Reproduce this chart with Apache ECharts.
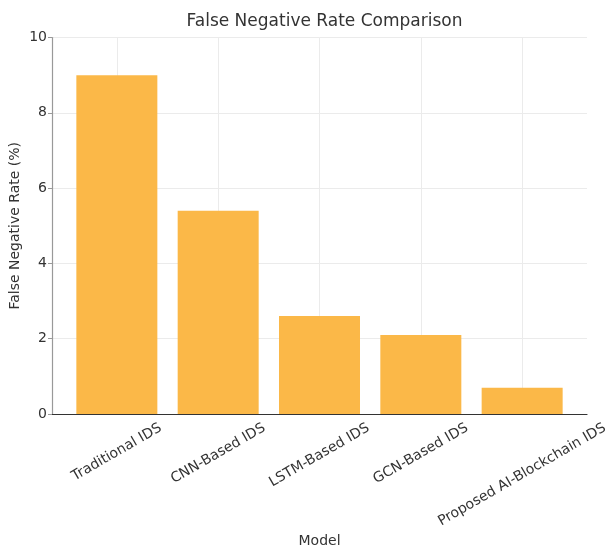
<!DOCTYPE html>
<html><head><meta charset="utf-8">
<script src="https://cdn.jsdelivr.net/npm/echarts@6/dist/echarts.min.js"></script>
<style>html,body{margin:0;padding:0;background:#fff}#c{width:613px;height:553px}</style>
</head><body><div id="c"></div>
<script>
const categories = ['Traditional IDS', 'CNN-Based IDS', 'LSTM-Based IDS', 'GCN-Based IDS', 'Proposed AI-Blockchain IDS'];
const fnRate = [9.0, 5.4, 2.6, 2.1, 0.7];
const yTicks = [0, 2, 4, 6, 8, 10];

const FONT = '"DejaVu Sans", sans-serif';
const LABEL_SIZE = 14;
const ROT = 30;
const rad = ROT * Math.PI / 180;
const ctx = document.createElement('canvas').getContext('2d');
ctx.font = LABEL_SIZE + 'px "DejaVu Sans"';
const rich = {};
categories.forEach((c, i) => {
  const w = ctx.measureText(c).width;
  const h = 16, pad = 6;
  const D = pad + (w / 2) * Math.sin(rad) + (h / 2) * Math.cos(rad);
  rich['l' + i] = {
    fontSize: LABEL_SIZE, fontFamily: FONT, color: '#333',
    padding: [2 * D * Math.cos(rad), 2 * D * Math.sin(rad), 0, 0]
  };
});
const idx = categories.map((_, i) => i);

const chart = echarts.init(document.getElementById('c'), null, {renderer: 'canvas'});
chart.setOption({
  animation: false,
  backgroundColor: '#fff',
  title: {
    text: 'False Negative Rate Comparison',
    left: 319.5, top: 8, textAlign: 'center',
    textStyle: {fontFamily: FONT, fontSize: 17, fontWeight: 'normal', color: '#333'}
  },
  grid: {left: 52, right: 26, top: 37.5, bottom: 139, containLabel: false, outerBoundsMode: 'none'},
  xAxis: {
    type: 'value', min: -0.64, max: 4.64,
    name: 'Model', nameLocation: 'middle', nameGap: 120, nameMoveOverlap: false,
    nameTextStyle: {fontFamily: FONT, fontSize: 14, color: '#333'},
    axisLine: {show: true, onZero: false, lineStyle: {color: '#333', width: 1.2}},
    axisTick: {show: true, inside: true, length: 3, customValues: idx, lineStyle: {color: '#333'}},
    axisLabel: {
      customValues: idx, rotate: ROT, align: 'center', verticalAlign: 'middle', margin: 0,
      formatter: (v) => { const i = Math.round(v); return '{l' + i + '|' + categories[i] + '}'; },
      rich: rich
    },
    splitLine: {show: true, lineStyle: {color: '#ebebeb', width: 1}}
  },
  yAxis: {
    type: 'value', min: 0, max: 10, interval: 2,
    name: 'False Negative Rate (%)', nameLocation: 'middle', nameGap: 30, nameMoveOverlap: false,
    nameTextStyle: {fontFamily: FONT, fontSize: 14, color: '#333'},
    axisLine: {show: true, onZero: false, lineStyle: {color: '#999', width: 1.2}},
    axisTick: {show: true, length: 4, lineStyle: {color: '#999'}},
    axisLabel: {fontFamily: FONT, fontSize: 14, color: '#333', margin: 5,
      formatter: (v) => yTicks.includes(v) ? String(v) : ''},
    splitLine: {show: true, lineStyle: {color: '#ebebeb', width: 1}}
  },
  series: [{
    type: 'bar',
    data: fnRate.map((v, i) => [i, v]),
    barWidth: 81,
    itemStyle: {color: '#fbb848'}
  }]
});
</script>
</body></html>
